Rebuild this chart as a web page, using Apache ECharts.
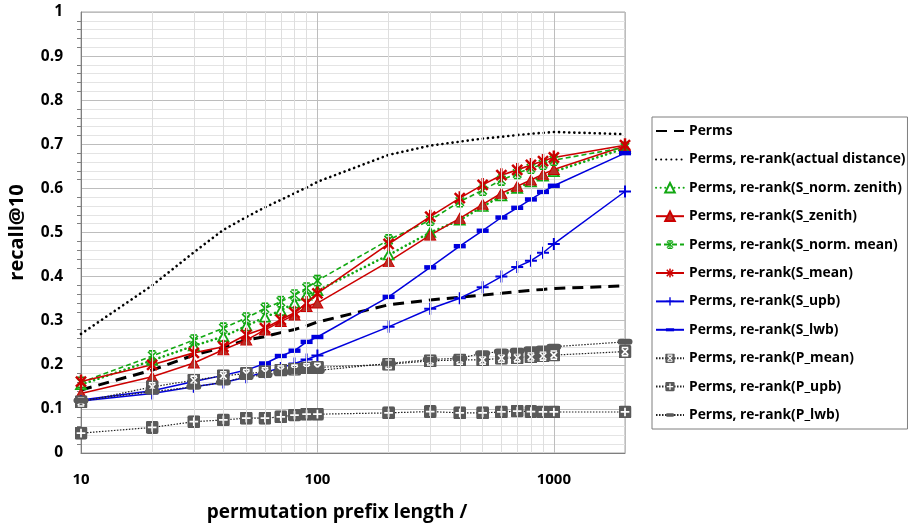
<!DOCTYPE html>
<html>
<head>
<meta charset="utf-8">
<script src="https://cdn.jsdelivr.net/npm/echarts@6/dist/echarts.min.js"></script>
<style>html,body{margin:0;padding:0;background:#fff}#c{width:912px;height:525px}</style>
</head>
<body>
<div id="c"></div>
<script>
// ---- data ----
const xs = [10,20,30,40,50,60,70,80,90,100,200,300,400,500,600,700,800,900,1000,2000];
const minorX = [20,30,40,50,60,70,80,90,200,300,400,500,600,700,800,900];
const names = [
  'Perms',
  'Perms, re-rank(actual distance)',
  'Perms, re-rank(S_norm. zenith)',
  'Perms, re-rank(S_zenith)',
  'Perms, re-rank(S_norm. mean)',
  'Perms, re-rank(S_mean)',
  'Perms, re-rank(S_upb)',
  'Perms, re-rank(S_lwb)',
  'Perms, re-rank(P_mean)',
  'Perms, re-rank(P_upb)',
  'Perms, re-rank(P_lwb)'
];
const perms  = [0.143,0.188,0.222,0.240,0.256,0.264,0.273,0.280,0.288,0.297,0.336,0.347,0.353,0.358,0.362,0.366,0.369,0.371,0.373,0.379];
const actual = [0.270,0.380,0.455,0.506,0.535,0.557,0.574,0.589,0.602,0.615,0.676,0.697,0.706,0.713,0.717,0.721,0.724,0.726,0.728,0.723];
const sNormZenith = [0.155,0.210,0.243,0.264,0.288,0.308,0.323,0.340,0.358,0.368,0.449,0.500,0.528,0.559,0.583,0.600,0.615,0.628,0.638,0.691];
const sZenith = [0.135,0.173,0.204,0.234,0.256,0.279,0.298,0.313,0.332,0.340,0.434,0.494,0.532,0.564,0.589,0.605,0.619,0.632,0.643,0.696];
const sNormMean = [0.160,0.220,0.256,0.283,0.306,0.328,0.343,0.358,0.374,0.391,0.483,0.528,0.570,0.596,0.619,0.634,0.646,0.655,0.664,0.693];
const sMean = [0.162,0.200,0.227,0.241,0.268,0.283,0.302,0.318,0.340,0.362,0.474,0.536,0.578,0.608,0.630,0.642,0.653,0.662,0.670,0.698];
const sUpb = [0.118,0.135,0.150,0.160,0.172,0.183,0.193,0.203,0.212,0.221,0.286,0.327,0.351,0.376,0.400,0.422,0.436,0.454,0.474,0.593];
const sLwb = [0.120,0.141,0.162,0.176,0.188,0.203,0.220,0.232,0.252,0.263,0.354,0.421,0.469,0.504,0.534,0.556,0.575,0.592,0.606,0.680];
const pMean = [0.116,0.150,0.165,0.175,0.180,0.184,0.188,0.190,0.193,0.194,0.201,0.209,0.211,0.211,0.215,0.216,0.218,0.220,0.222,0.230];
const pUpb = [0.045,0.058,0.071,0.075,0.079,0.079,0.082,0.086,0.088,0.088,0.091,0.094,0.091,0.091,0.093,0.095,0.094,0.093,0.093,0.093];
const pLwb = [0.119,0.139,0.150,0.160,0.173,0.177,0.182,0.186,0.188,0.187,0.203,0.212,0.215,0.226,0.230,0.232,0.235,0.237,0.241,0.252];

// ---- styling helpers ----
const FONT = '"Open Sans", "Noto Sans", sans-serif';
const GREEN = '#12a812', RED = '#cc0000', BLUE = '#0000dd', GRAY = '#595959';
function pair(ys){ return xs.map((x,i)=>[x,ys[i]]); }
function svgSym(w,h,body){
  return 'image://data:image/svg+xml;charset=utf-8,' + encodeURIComponent(
    '<svg xmlns="http://www.w3.org/2000/svg" width="'+w+'" height="'+h+'" viewBox="0 0 '+w+' '+h+'">'+body+'</svg>');
}
const starRed = svgSym(14,14,'<g stroke="'+RED+'" stroke-width="2.3"><line x1="2.3" y1="2.3" x2="11.7" y2="11.7"/><line x1="11.7" y1="2.3" x2="2.3" y2="11.7"/><line x1="7" y1="0.5" x2="7" y2="13.5"/></g>');
const starGreen = svgSym(14,14,'<g stroke="'+GREEN+'" stroke-width="1.7"><line x1="2.5" y1="2.5" x2="11.5" y2="11.5"/><line x1="11.5" y1="2.5" x2="2.5" y2="11.5"/><line x1="7" y1="1" x2="7" y2="13"/><line x1="3.5" y1="1.5" x2="10.5" y2="1.5"/><line x1="3.5" y1="12.5" x2="10.5" y2="12.5"/></g>');
const plusBlue = svgSym(14,14,'<g stroke="'+BLUE+'" stroke-width="2"><line x1="1" y1="7" x2="13" y2="7"/><line x1="7" y1="1" x2="7" y2="13"/></g>');
const dashBlue = svgSym(14,14,'<rect x="1" y="4.8" width="12" height="4.4" fill="'+BLUE+'"/>');
const boxX = svgSym(12,12,'<rect x="0" y="0" width="12" height="12" rx="1.5" fill="'+GRAY+'"/><g stroke="#fff" stroke-width="1.5"><line x1="3" y1="3" x2="9" y2="9"/><line x1="9" y1="3" x2="3" y2="9"/><line x1="3" y1="2.2" x2="9" y2="2.2"/><line x1="3" y1="9.8" x2="9" y2="9.8"/></g>');
const boxPlus = svgSym(12,12,'<rect x="0" y="0" width="12" height="12" rx="2" fill="'+GRAY+'"/><g stroke="#fff" stroke-width="1.6"><line x1="2" y1="6" x2="10" y2="6"/><line x1="6" y1="2" x2="6" y2="10"/></g>');
const barGray = svgSym(16,16,'<rect x="0.5" y="5" width="15" height="6" rx="3" fill="'+GRAY+'"/>');

function mk(name, data, opts){
  return Object.assign({
    name: name, type: 'line', data: pair(data), z: 3,
    symbol: 'none', showSymbol: true, smooth: false, connectNulls: true
  }, opts);
}

const series = [
  // minor vertical grid lines drawn through the x axis scale
  { name: '_grid', type: 'line', data: [], z: 0, silent: true,
    markLine: { silent: true, symbol: ['none','none'], label: {show:false},
      lineStyle: { color: '#dedede', type: 'solid', width: 1 },
      data: minorX.map(v => ({ xAxis: v })) , animation: false } },
  mk(names[0], perms, { lineStyle: { color: '#000', width: 3, type: [11,7] }, itemStyle: { color: '#000' } }),
  mk(names[1], actual, { lineStyle: { color: '#000', width: 2.6, type: [0.1,5], cap: 'round' }, itemStyle: { color: '#000' } }),
  mk(names[2], sNormZenith, { symbol: 'triangle', symbolSize: [10,9],
    lineStyle: { color: GREEN, width: 2.6, type: [0.1,4.5], cap: 'round' },
    itemStyle: { color: '#fff', borderColor: GREEN, borderWidth: 1.8 } }),
  mk(names[3], sZenith, { symbol: 'triangle', symbolSize: [11,10],
    lineStyle: { color: RED, width: 1.5 },
    itemStyle: { color: '#b83028', borderColor: RED, borderWidth: 1 } }),
  mk(names[4], sNormMean, { symbol: starGreen, symbolSize: 13,
    lineStyle: { color: GREEN, width: 1.6, type: [5,3] }, itemStyle: { color: GREEN } }),
  mk(names[5], sMean, { symbol: starRed, symbolSize: 15,
    lineStyle: { color: RED, width: 1.6 }, itemStyle: { color: RED } }),
  mk(names[6], sUpb, { symbol: plusBlue, symbolSize: 14,
    lineStyle: { color: BLUE, width: 1.5 }, itemStyle: { color: BLUE } }),
  mk(names[7], sLwb, { symbol: dashBlue, symbolSize: 14,
    lineStyle: { color: BLUE, width: 1.5 }, itemStyle: { color: BLUE } }),
  mk(names[8], pMean, { symbol: boxX, symbolSize: 13,
    lineStyle: { color: '#222', width: 1.2, type: [1.5,1.5] }, itemStyle: { color: GRAY } }),
  mk(names[9], pUpb, { symbol: boxPlus, symbolSize: 13,
    lineStyle: { color: '#222', width: 1.2, type: [1.5,1.5] }, itemStyle: { color: GRAY } }),
  mk(names[10], pLwb, { symbol: barGray, symbolSize: 16,
    lineStyle: { color: '#222', width: 1.2, type: [1.5,1.5] }, itemStyle: { color: GRAY } })
];

const legendData = names.map((n, i) => i < 2
  ? { name: n, itemStyle: { color: 'rgba(0,0,0,0)', borderColor: 'rgba(0,0,0,0)', borderWidth: 0 } }
  : { name: n });

const chart = echarts.init(document.getElementById('c'), null, { renderer: 'canvas' });
chart.setOption({
  animation: false,
  backgroundColor: '#fff',
  textStyle: { fontFamily: FONT },
  grid: { left: 81, right: 287, top: 12, bottom: 72, containLabel: false, outerBoundsMode: 'none',
    show: true, borderColor: '#a6a6a6', borderWidth: 1 },
  legend: {
    data: legendData, orient: 'vertical', left: 652, top: 117,
    itemWidth: 28, itemHeight: 12, itemGap: 14.4,
    padding: [7, 2, 7, 3], borderColor: '#7f7f7f', borderWidth: 1,
    textStyle: { fontFamily: FONT, fontWeight: 'bold', fontSize: 13.8, color: '#000' }
  },
  xAxis: {
    type: 'log', logBase: 10, min: 10, max: 2000,
    name: 'permutation prefix length /', nameLocation: 'middle', nameGap: 50,
    nameTextStyle: { fontFamily: FONT, fontWeight: 'bold', fontSize: 19, color: '#000', padding: [0, 32, 0, 0] },
    axisLine: { lineStyle: { color: '#7f7f7f', width: 1 } },
    axisTick: { show: false },
    axisLabel: { margin: 19, fontFamily: FONT, fontWeight: 'bold', fontSize: 15, color: '#000',
      showMaxLabel: false, formatter: v => String(Math.round(v)) },
    splitLine: { show: true, lineStyle: { color: '#bdbdbd', width: 1 } }
  },
  yAxis: {
    type: 'value', min: 0, max: 1, interval: 0.1,
    name: 'recall@10', nameLocation: 'middle', nameGap: 54, nameRotate: 90,
    nameTextStyle: { fontFamily: FONT, fontWeight: 'bold', fontSize: 20, color: '#000' },
    axisLine: { show: true, lineStyle: { color: '#7f7f7f', width: 1 } },
    axisTick: { show: false },
    minorTick: { show: true, splitNumber: 5, length: 4, lineStyle: { color: '#7f7f7f' } },
    axisLabel: { margin: 18, fontFamily: FONT, fontWeight: 'bold', fontSize: 15.5, color: '#000',
      formatter: v => String(Math.round(v*10)/10) },
    splitLine: { show: true, lineStyle: { color: '#bdbdbd', width: 1 } },
    minorSplitLine: { show: true, lineStyle: { color: '#e4e4e4', width: 1 } }
  },
  series: series
});
</script>
</body>
</html>
